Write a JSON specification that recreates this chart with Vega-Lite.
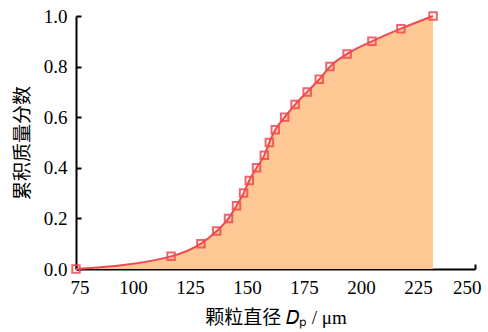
{
  "$schema": "https://vega.github.io/schema/vega-lite/v6.json",
  "width": 399,
  "height": 253,
  "autosize": "none",
  "padding": {"left": 76, "top": 16, "right": 13, "bottom": 63},
  "background": "white",
  "config": {
    "view": {"stroke": null},
    "axis": {
      "domainColor": "black",
      "domainWidth": 2,
      "tickColor": "black",
      "tickWidth": 2,
      "tickSize": -5,
      "grid": false,
      "labelFont": "Liberation Serif, serif",
      "labelFontSize": 19,
      "labelColor": "black",
      "titleFontSize": 19,
      "titleFontWeight": "normal",
      "titleColor": "black",
      "zindex": 1
    }
  },
  "data": {
    "values": [
      {"dp": 75.0, "frac": 0.0},
      {"dp": 116.7, "frac": 0.05},
      {"dp": 129.8, "frac": 0.1},
      {"dp": 136.7, "frac": 0.15},
      {"dp": 141.9, "frac": 0.2},
      {"dp": 145.4, "frac": 0.25},
      {"dp": 148.5, "frac": 0.3},
      {"dp": 151.0, "frac": 0.35},
      {"dp": 154.2, "frac": 0.4},
      {"dp": 157.6, "frac": 0.45},
      {"dp": 159.8, "frac": 0.5},
      {"dp": 162.4, "frac": 0.55},
      {"dp": 166.5, "frac": 0.6},
      {"dp": 171.1, "frac": 0.65},
      {"dp": 176.4, "frac": 0.7},
      {"dp": 181.7, "frac": 0.75},
      {"dp": 186.4, "frac": 0.8},
      {"dp": 193.9, "frac": 0.85},
      {"dp": 204.8, "frac": 0.9},
      {"dp": 217.5, "frac": 0.95},
      {"dp": 231.6, "frac": 1.0}
    ]
  },
  "encoding": {
    "x": {
      "field": "dp",
      "type": "quantitative",
      "scale": {"domain": [75, 250], "nice": false, "zero": false},
      "axis": {
        "title": "颗粒直径 𝐷ₚ / μm",
        "titleFont": "Liberation Serif, Noto Sans CJK SC, serif",
        "values": [75, 100, 125, 150, 175, 200, 225, 250],
        "labelFlush": true,
        "labelFlushOffset": 6,
        "labelPadding": 14,
        "titlePadding": 11
      }
    },
    "y": {
      "field": "frac",
      "type": "quantitative",
      "scale": {"domain": [0, 1], "nice": false},
      "axis": {
        "title": "累积质量分数",
        "titleFont": "Noto Sans CJK SC",
        "values": [0, 0.2, 0.4, 0.6, 0.8, 1.0],
        "format": ".1f",
        "labelFlush": false,
        "labelPadding": 14,
        "titlePadding": 11
      }
    }
  },
  "layer": [
    {"mark": {"type": "area", "interpolate": "monotone", "color": "#FDC893", "opacity": 1}},
    {"mark": {"type": "line", "interpolate": "monotone", "color": "#EF4A51", "strokeWidth": 2}},
    {"mark": {"type": "point", "shape": "square", "size": 56, "filled": false, "color": "#EF4A51", "strokeWidth": 2, "opacity": 0.85}}
  ]
}
